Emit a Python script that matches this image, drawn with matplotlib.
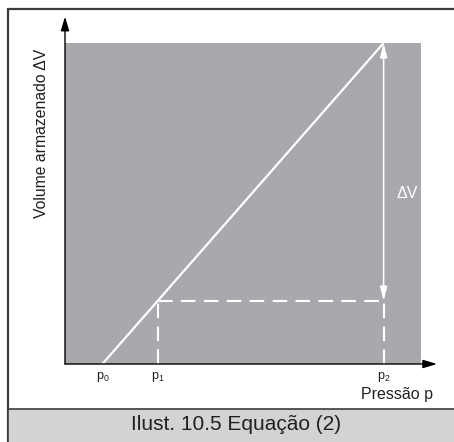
import matplotlib
matplotlib.use('Agg')
import matplotlib.pyplot as plt
import matplotlib.patches as mpatches

plt.rcParams['font.family'] = ['Liberation Sans', 'DejaVu Sans']
plt.rcParams['mathtext.fontset'] = 'custom'
plt.rcParams['mathtext.rm'] = 'Liberation Sans'
plt.rcParams['mathtext.it'] = 'Liberation Sans'

# pressure marks on the x axis
p_values = [1.05, 2.6, 8.95]
p_labels = [r'p$_{\mathrm{0}}$', r'p$_{\mathrm{1}}$', r'p$_{\mathrm{2}}$']

# storage line (pressure -> stored volume)
line_p = [1.05, 8.95]
line_v = [0.0, 10.0]

# volume at p1 and p2
v_p1 = 1.96
v_p2 = 10.0

# shaded region extent
p_max = 10.0
v_max = 10.0

GRAY = '#a7a9ac'
CAPTION_BG = '#d1d3d4'
FRAME = '#3c3c3c'

W, H = 454, 442
fig = plt.figure(figsize=(W / 100, H / 100), dpi=100)
fig.patch.set_facecolor('white')

# ── outer frame and caption band ──
fig.add_artist(mpatches.Rectangle((8 / W, -0.1), 1.2, 1 - 9 / H + 0.1,
                                  transform=fig.transFigure, facecolor='white',
                                  edgecolor=FRAME, lw=1.6, zorder=0))
fig.add_artist(mpatches.Rectangle((8 / W, -0.1), 1.2, (H - 409) / H + 0.1,
                                  transform=fig.transFigure, facecolor=CAPTION_BG,
                                  edgecolor=FRAME, lw=1.2, zorder=1))
fig.text(236 / W, 1 - 425 / H, 'Ilust. 10.5 Equação (2)', ha='center', va='center',
         fontsize=15, color='#231f20')

# ── chart axes ──
px_x = 35.6   # pixels per pressure unit
px_y = 32.1   # pixels per volume unit
xlim = (0, 10.6)
ylim = (0, 10.95)
ax = fig.add_axes([65 / W, (H - 364) / H, xlim[1] * px_x / W, ylim[1] * px_y / H])
ax.set_xlim(*xlim)
ax.set_ylim(*ylim)
ax.axis('off')

ax.add_patch(mpatches.Rectangle((0, 0), p_max, v_max, facecolor=GRAY,
                                edgecolor='none', zorder=1))

# main line
ax.plot(line_p, line_v, color='white', lw=1.6, solid_capstyle='butt', zorder=3)

# dashed guides
dash_kw = dict(color='white', lw=1.5, dashes=(7, 4), zorder=3)
ax.plot([p_values[1], p_values[1]], [0, v_p1], **dash_kw)
ax.plot([p_values[1], p_values[2]], [v_p1, v_p1], **dash_kw)
ax.plot([p_values[2], p_values[2]], [0, v_p1], **dash_kw)

# delta V arrow
ax.annotate('', xy=(p_values[2], v_p2), xytext=(p_values[2], v_p1),
            arrowprops=dict(arrowstyle='<|-|>,head_length=0.6,head_width=0.15',
                            color='white', lw=1.1, mutation_scale=14,
                            shrinkA=0, shrinkB=0), zorder=4)
ax.text(p_values[2] + 0.36, 5.3, 'ΔV', color='white', fontsize=11.5,
        ha='left', va='center', zorder=4)

# axes arrows
arrow_kw = dict(arrowstyle='-|>,head_length=0.6,head_width=0.18', color='black',
                lw=1.0, mutation_scale=14, shrinkA=0, shrinkB=0)
ax.annotate('', xy=(10.45, 0), xytext=(0, 0), arrowprops=arrow_kw, zorder=5)
ax.annotate('', xy=(0, 10.82), xytext=(0, 0), arrowprops=arrow_kw, zorder=5)

# tick labels
for p, lab in zip(p_values, p_labels):
    ax.text(p, -0.42, lab, ha='center', va='center', fontsize=9, color='#231f20')

ax.text(10.35, -0.95, 'Pressão p', ha='right', va='center', fontsize=11.5,
        color='#231f20')
ax.text(-0.65, 7.2, 'Volume armazenado ΔV', rotation=90, ha='center',
        va='center', fontsize=11.3, color='#231f20')

fig.savefig('out.png', dpi=100)
